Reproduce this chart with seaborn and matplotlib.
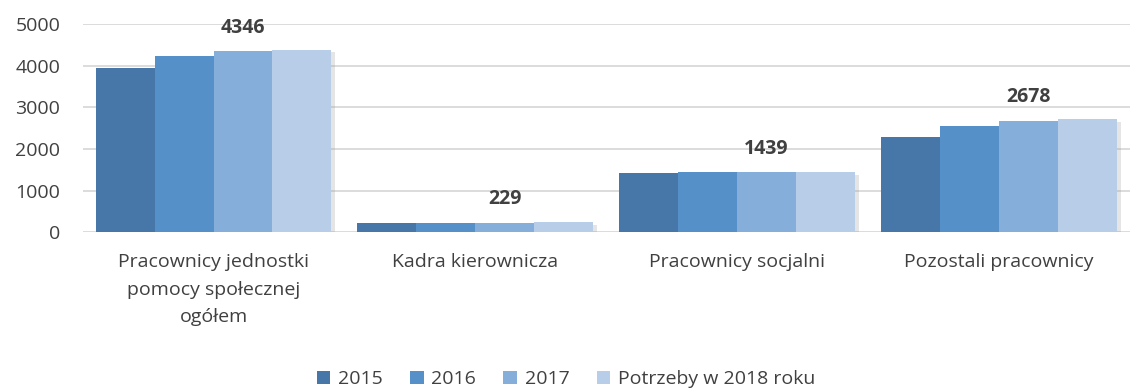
import matplotlib
matplotlib.use("Agg")
import matplotlib.pyplot as plt
import matplotlib.patheffects as pe
from matplotlib.patches import Patch
import seaborn as sns
import pandas as pd

categories = [
    "Pracownicy jednostki\npomocy społecznej\nogółem",
    "Kadra kierownicza",
    "Pracownicy socjalni",
    "Pozostali pracownicy",
]
series = ["2015", "2016", "2017", "Potrzeby w 2018 roku"]
values_2015 = [3950, 220, 1420, 2290]
values_2016 = [4230, 225, 1435, 2555]
values_2017 = [4346, 229, 1439, 2678]
values_2018 = [4390, 232, 1445, 2710]
labelled_series = "2017"
colors = ["#4677A8", "#5591C8", "#85AEDB", "#B8CDE8"]
y_ticks = [0, 1000, 2000, 3000, 4000, 5000]

rows = []
for name, vals in zip(series, [values_2015, values_2016, values_2017, values_2018]):
    for cat, v in zip(categories, vals):
        rows.append({"kategoria": cat, "seria": name, "wartosc": v})
df = pd.DataFrame(rows)

sns.set_theme(style="white")
plt.rcParams["font.family"] = ["Open Sans", "DejaVu Sans"]
text_color = "#404040"

fig = plt.figure(figsize=(11.32, 3.92), dpi=100)
ax = fig.add_axes([0.073, 0.408, 0.925, 0.53])

sns.barplot(
    data=df, x="kategoria", y="wartosc", hue="seria",
    order=categories, hue_order=series, palette=colors,
    width=0.9, saturation=1, ax=ax, legend=False, errorbar=None,
)

shadow = [pe.SimplePatchShadow(offset=(3, -2), shadow_rgbFace="#999999", alpha=0.25),
          pe.Normal()]
for patch in ax.patches:
    patch.set_linewidth(0)
    patch.set_path_effects(shadow)

# value labels above the 2017 bars
idx = series.index(labelled_series)
container = ax.containers[idx]
for bar, v in zip(container, values_2017):
    ax.annotate(f"{v}", (bar.get_x() + bar.get_width() / 2, v),
                xytext=(0, 17), textcoords="offset points",
                ha="center", va="center", fontsize=14, fontweight="bold",
                color=text_color)

ax.set_ylim(0, 5000)
ax.set_xlim(-0.5, 3.5)
ax.set_yticks(y_ticks)
ax.yaxis.grid(True, color="#D9D9D9", linewidth=1.3)
ax.set_axisbelow(True)
for s in ax.spines.values():
    s.set_visible(False)
ax.set_xlabel("")
ax.set_ylabel("")
ax.tick_params(axis="both", length=0, labelsize=14, colors=text_color)
ax.tick_params(axis="y", pad=16)
ax.tick_params(axis="x", pad=15)
for lbl in ax.get_xticklabels():
    lbl.set_linespacing(1.7)

handles = [Patch(facecolor=c, edgecolor="none", label=s) for c, s in zip(colors, series)]
leg = fig.legend(handles=handles, loc="lower center", bbox_to_anchor=(0.5, -0.035),
                 ncol=4, frameon=False, fontsize=14, handlelength=0.7,
                 handleheight=0.7, handletextpad=0.4, columnspacing=1.4)
for t in leg.get_texts():
    t.set_color(text_color)

fig.savefig("out.png", dpi=100)
